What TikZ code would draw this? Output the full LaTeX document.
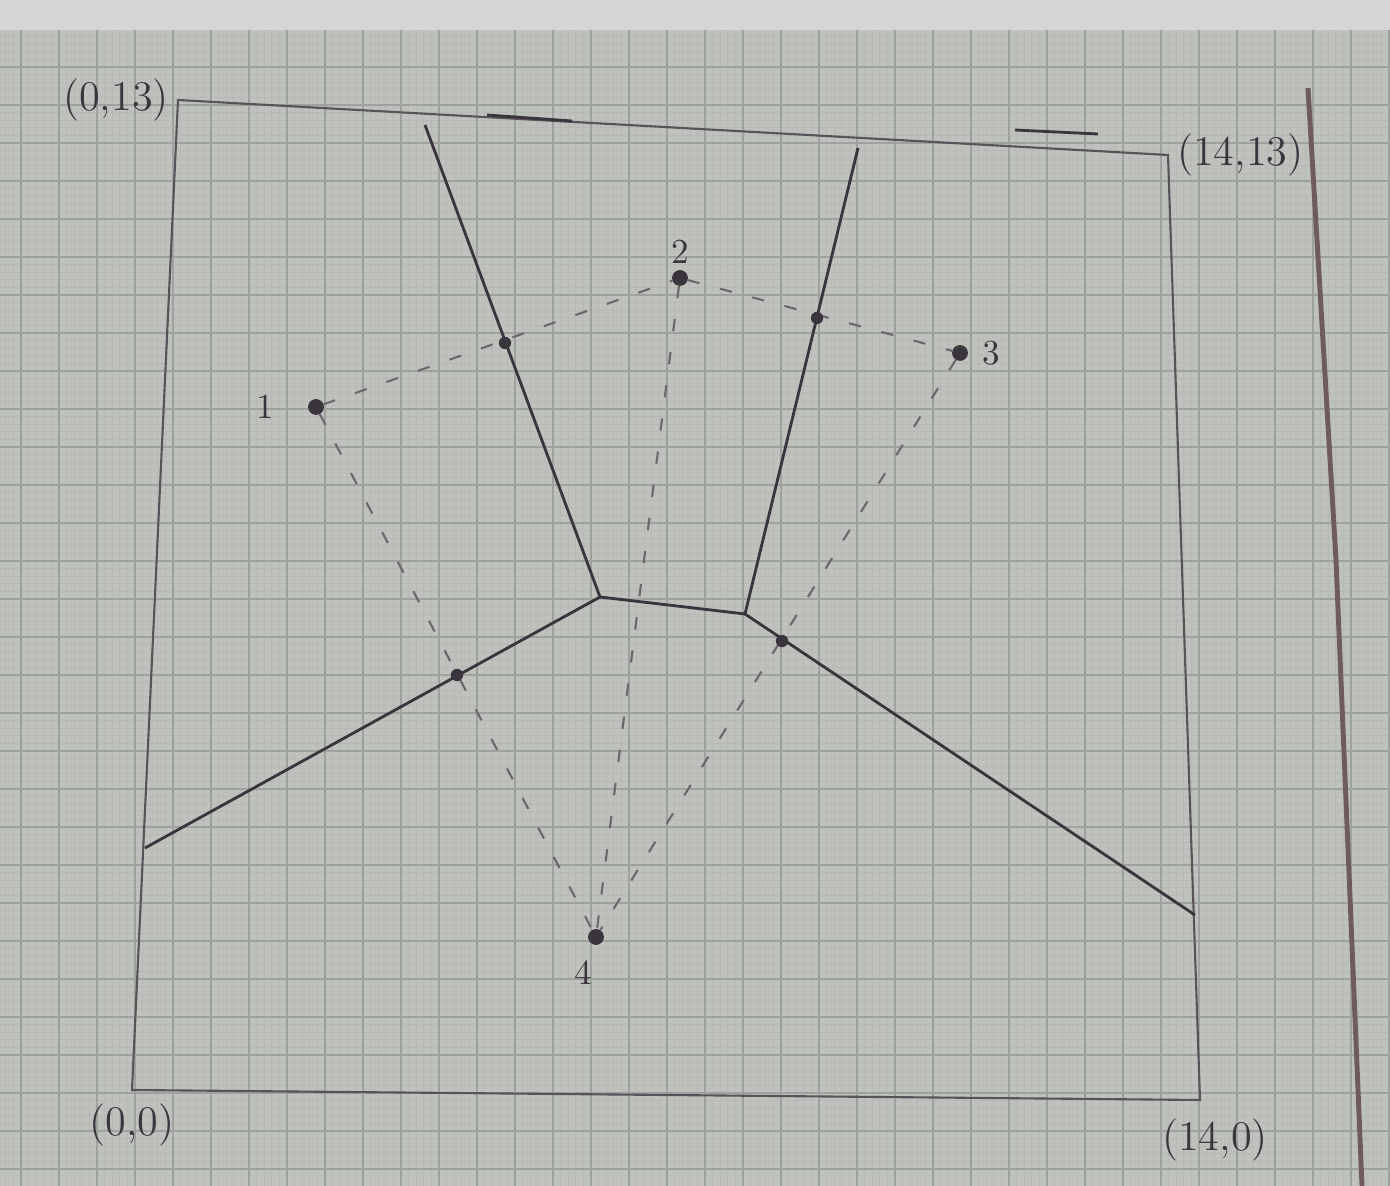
\documentclass[tikz,border=0pt]{standalone}
\usetikzlibrary{positioning}
\definecolor{paper}{RGB}{190,193,188}
\definecolor{sheet}{RGB}{212,215,211}
\definecolor{finegrid}{RGB}{182,185,181}
\definecolor{midgrid}{RGB}{158,162,158}
\definecolor{pencil}{RGB}{58,52,60}
\definecolor{paperedge}{RGB}{110,92,92}

\begin{document}
\begin{tikzpicture}[x=0.01cm, y=-0.01cm,
    dot/.style = {circle, fill=pencil, minimum size=#1,
                inner sep=0pt, outer sep=0pt},
    dot/.default = 4.5pt,  % size of a site
    edge/.style = {draw=pencil, line width=0.8pt},
    boxline/.style = {draw=pencil!85, line width=0.6pt},
    bisect/.style = {draw=pencil!75, line width=0.6pt,
                dash pattern=on 3.5pt off 6pt},
    tag/.style = {text=pencil, inner sep=1pt},
    corner/.style = {tag, font=\large}
                    ]
    \useasboundingbox (0,0) rectangle (1390,1186);
    % graph paper
    \fill[paper] (0,0) rectangle (1390,1186);
    \foreach \k in {0,...,182}
        \draw[finegrid, line width=0.2pt] ({5.8+7.6*\k},30) -- ({5.8+7.6*\k},1186);
    \foreach \k in {0,...,152}
        \draw[finegrid, line width=0.2pt] (0,{6.2+7.6*\k}) -- (1390,{6.2+7.6*\k});
    \foreach \k in {0,...,36}
        \draw[midgrid, line width=0.3pt] ({21+38*\k},30) -- ({21+38*\k},1186);
    \foreach \k in {0,...,30}
        \draw[midgrid, line width=0.3pt] (0,{29+38*\k}) -- (1390,{29+38*\k});
    \fill[sheet] (0,0) rectangle (1390,30);
    \draw[paperedge, line width=1.4pt] (1308,88) -- (1336,560) -- (1362,1186);
    % bounding box of the plane
    \coordinate (tl) at (178,100);
    \coordinate (tr) at (1168,155);
    \coordinate (br) at (1200,1100);
    \coordinate (bl) at (132,1090);
    \draw[boxline] (bl) -- (tl) -- (tr) -- (br) -- cycle;
    \node[corner, left=0.05cm of tl] (c013) {(0,13)};
    \node[corner, right=0.05cm of tr] (c1413) {(14,13)};
    \node[corner, below=0.1cm of bl] (c00) {(0,0)};
    \node[corner, below=0.15cm of br, xshift=0.15cm] (c140) {(14,0)};
    % stray marks on top
    \draw[edge] (487,115) -- (572,121);
    \draw[edge] (1015,130) -- (1098,134);
    % sites
    \node[dot] (p1) at (316,407) {};
    \node[dot] (p2) at (680,278) {};
    \node[dot] (p3) at (960,353) {};
    \node[dot] (p4) at (596,937) {};
    \node[tag, left=0.3cm of p1] (l1) {1};
    \node[tag, above=0.02cm of p2] (l2) {2};
    \node[tag, right=0.1cm of p3] (l3) {3};
    \node[tag, below=0.12cm of p4, xshift=-0.13cm] (l4) {4};
    % joins between sites
    \draw[bisect] (p1) -- (p2);
    \draw[bisect] (p2) -- (p3);
    \draw[bisect] (p1) -- (p4);
    \draw[bisect] (p2) -- (p4);
    \draw[bisect] (p3) -- (p4);
    % voronoi vertices and edges
    \coordinate (va) at (600,597);
    \coordinate (vb) at (745,614);
    \coordinate (ta) at (425,125);
    \coordinate (tb) at (858,148);
    \coordinate (la) at (145,848);
    \coordinate (rb) at (1195,915);
    \draw[edge] (ta) -- (va) -- (vb) -- (tb);
    \draw[edge] (la) -- (va);
    \draw[edge] (vb) -- (rb);
    % midpoints
    \node[dot=3.5pt] (m12) at (505,343) {};
    \node[dot=3.5pt] (m23) at (817,318) {};
    \node[dot=3.5pt] (m14) at (457,675) {};
    \node[dot=3.5pt] (m34) at (782,641) {};
\end{tikzpicture}
\end{document}
